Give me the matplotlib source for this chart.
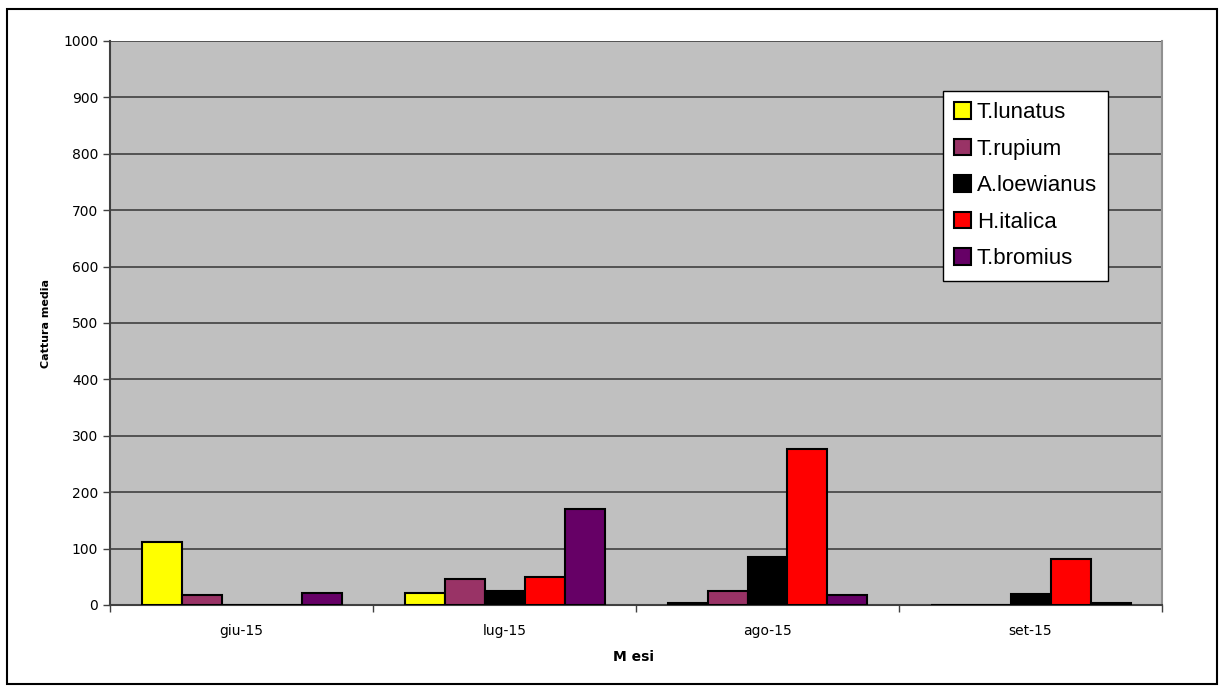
import matplotlib
matplotlib.use('Agg')
import matplotlib.pyplot as plt
import numpy as np
from matplotlib.patches import Rectangle

# Data
months = ['giu-15', 'lug-15', 'ago-15', 'set-15']
species = ['T.lunatus', 'T.rupium', 'A.loewianus', 'H.italica', 'T.bromius']
colors = ['#FFFF00', '#993366', '#000000', '#FF0000', '#660066']

t_lunatus = [111, 21, 4, 0]
t_rupium = [18, 46, 25, 0]
a_loewianus = [0, 25, 85, 19]
h_italica = [0, 50, 276, 82]
t_bromius = [21, 170, 18, 4]

series = [t_lunatus, t_rupium, a_loewianus, h_italica, t_bromius]

fig = plt.figure(figsize=(12.24, 6.91), dpi=100)
ax = fig.add_axes([110 / 1224, 86 / 691, 1052 / 1224, 564 / 691])
ax.set_facecolor('#C0C0C0')

# outer chart border
fig.patches.append(Rectangle((7 / 1224, 7 / 691), 1210 / 1224, 675 / 691,
                             transform=fig.transFigure, fill=False,
                             edgecolor='black', linewidth=1.5))

x = np.arange(len(months))
width = 1 / 6.575
for i, (vals, name, col) in enumerate(zip(series, species, colors)):
    offset = (i - 2) * width
    ax.bar(x + offset, vals, width, color=col, edgecolor='black',
           linewidth=1.5, label=name, zorder=3)

ax.set_xlim(-0.5, 3.5)
ax.set_ylim(0, 1000)
ax.set_yticks(np.arange(0, 1001, 100))
ax.yaxis.grid(True, color='#404040', linewidth=1.2, zorder=0)
ax.set_axisbelow(True)

ax.set_xticks(x)
ax.set_xticklabels(months, fontsize=10)
ax.set_xticks(np.arange(-0.5, 4, 1), minor=True)
ax.tick_params(axis='x', which='major', length=0, pad=14)
ax.tick_params(axis='x', which='minor', length=5, color='#404040', width=1)
ax.tick_params(axis='y', length=5, color='#404040', width=1, labelsize=10)

for s in ['left', 'bottom']:
    ax.spines[s].set_color('#404040')
    ax.spines[s].set_linewidth(1.5)
ax.spines['top'].set_visible(False)
ax.spines['right'].set_color('#909090')
ax.spines['right'].set_linewidth(1.5)

fig.text(46 / 1224, 1 - 323 / 691, 'Cattura media', rotation=90, ha='center',
         va='center', fontsize=8, fontweight='bold')
fig.text(633 / 1224, 1 - 657 / 691, 'M esi', ha='center', va='center',
         fontsize=10, fontweight='bold')

leg = ax.legend(loc='upper left', bbox_to_anchor=(833 / 1052, 1 - 50 / 564),
                prop={'family': 'Liberation Sans', 'size': 16},
                frameon=True, fancybox=False, borderpad=0.5,
                handlelength=0.77, handleheight=0.77, handletextpad=0.25,
                labelspacing=0.7, borderaxespad=0)
leg.get_frame().set_edgecolor('black')
leg.get_frame().set_linewidth(1.0)
leg.get_frame().set_facecolor('white')
leg.get_frame().set_alpha(1)

fig.savefig('out.png', dpi=100)
